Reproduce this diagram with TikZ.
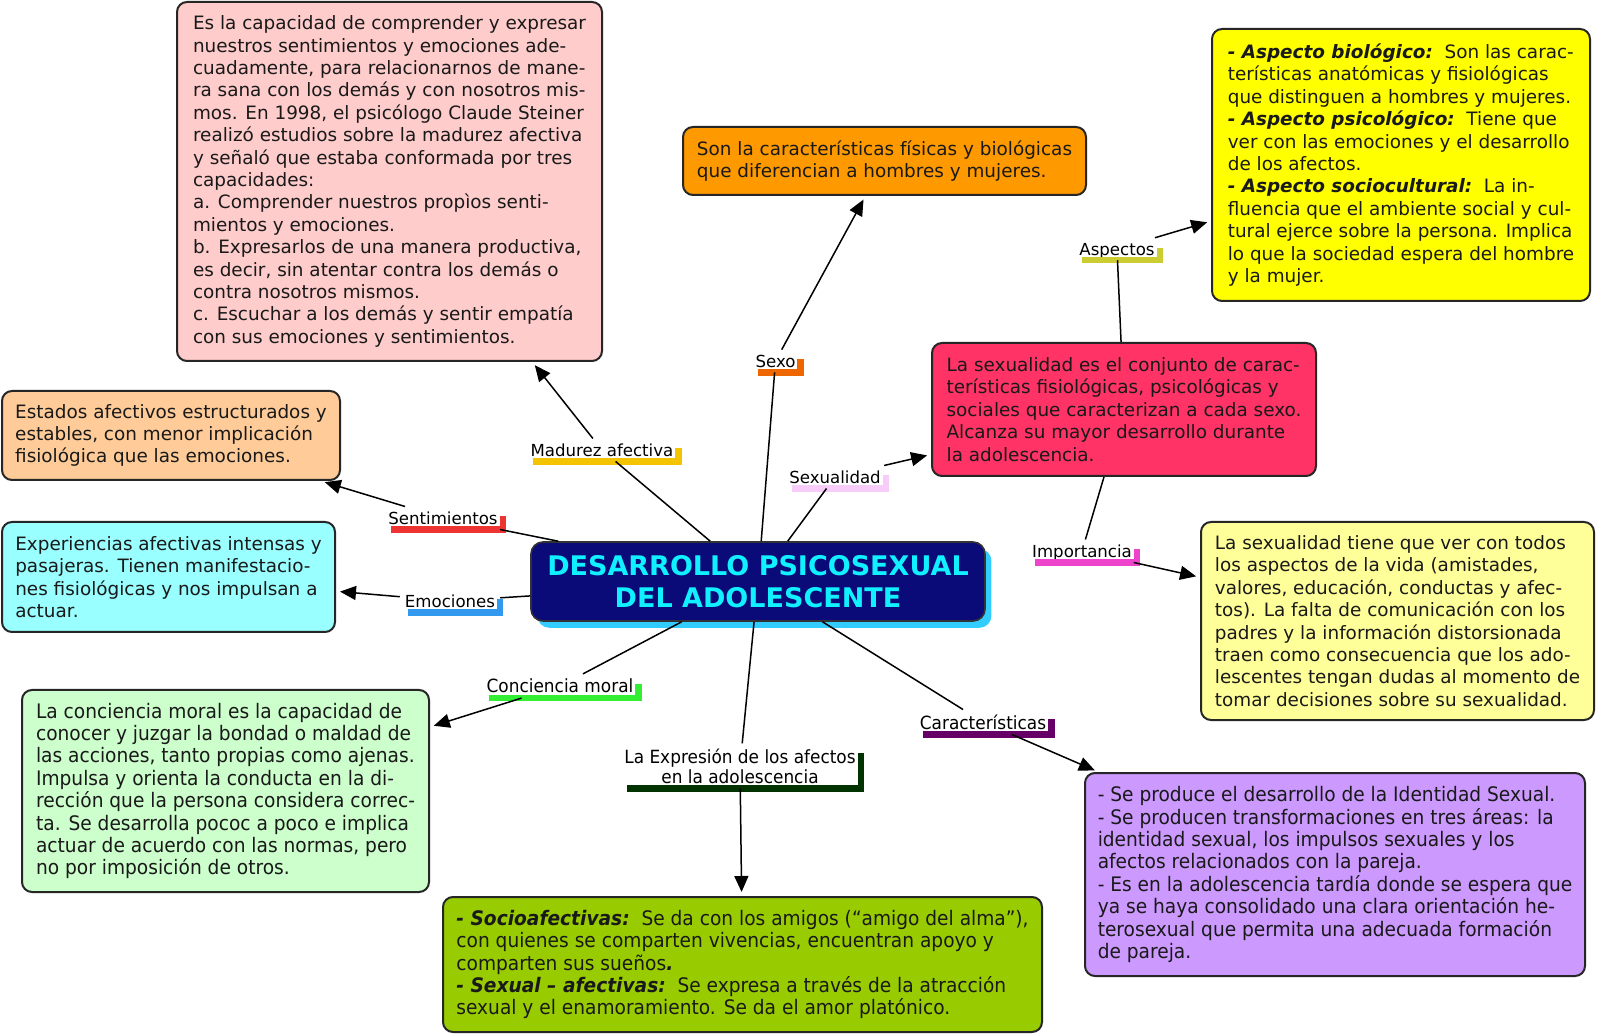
\documentclass[tikz,border=0pt]{standalone}
\usepackage{fontspec}
\setmainfont{DejaVu Sans}
\newfontfamily\narrowfont[FakeStretch=0.93]{DejaVu Sans}
\usetikzlibrary{arrows.meta,shadows}
\definecolor{madc}{HTML}{FFCCCC}
\definecolor{sexoc}{HTML}{FF9900}
\definecolor{aspc}{HTML}{FFFF00}
\definecolor{sexuc}{HTML}{FF3366}
\definecolor{impc}{HTML}{FFFF99}
\definecolor{carc}{HTML}{CC99FF}
\definecolor{exprc}{HTML}{99CC00}
\definecolor{concc}{HTML}{CCFFCC}
\definecolor{emoc}{HTML}{99FFFF}
\definecolor{sentc}{HTML}{FFCC99}
\definecolor{navyc}{HTML}{0A0A78}
\definecolor{titlec}{HTML}{10F0FF}
\definecolor{shadc}{HTML}{33CCFF}
\definecolor{madbar}{HTML}{F5C400}
\definecolor{sexobar}{HTML}{EE6600}
\definecolor{sexubar}{HTML}{F8CCF8}
\definecolor{aspbar}{HTML}{CCCC33}
\definecolor{impbar}{HTML}{EE44CC}
\definecolor{sentbar}{HTML}{EE3333}
\definecolor{emobar}{HTML}{3399EE}
\definecolor{concbar}{HTML}{33EE33}
\definecolor{exprbar}{HTML}{003300}
\definecolor{carbar}{HTML}{660066}
\newcommand\bodyfnt{\fontsize{9.2pt}{11.2pt}\selectfont}
\newcommand\narrowbody{\narrowfont\fontsize{10pt}{11.2pt}\selectfont}
\newcommand\labfnt{\fontsize{8.3pt}{10pt}\selectfont}
\newcommand\narrowlab{\narrowfont\fontsize{9.1pt}{10.2pt}\selectfont}
\newcommand\bi[1]{\textbf{\textit{#1}}}
\begin{document}
\begin{tikzpicture}[x=0.5pt,y=-0.5pt,
  box/.style={draw=black!85, line width=1pt, rounded corners=5pt, inner sep=0pt,
    align=left, text=black!90, font=\bodyfnt},
  nbox/.style={box, font=\narrowbody},
  central/.style={fill=navyc, draw=black!80, line width=0.8pt, rounded corners=6pt,
    minimum width=227pt, minimum height=39.5pt, align=center, text=titlec,
    font=\bfseries\fontsize{13.5pt}{16pt}\selectfont,
    drop shadow={shadow xshift=3.2pt, shadow yshift=-3.4pt, fill=shadc, opacity=1}},
  lab/.style={font=\labfnt, inner sep=2.4pt, text depth=0pt, text=black,
    append after command={([xshift=4pt]\tikzlastnode.south west) edge[draw=#1, line width=3.2pt,
      to path={-| (\tikztotarget)}] ([yshift=-4.9pt]\tikzlastnode.north east)}},
  nlab/.style={lab=#1, font=\narrowlab, align=center},
  conn/.style={line width=0.75pt, draw=black},
  arr/.style={conn, -{Triangle[length=8pt,width=7pt]}, shorten >=2pt}
]
\useasboundingbox[fill=white] (0,0) rectangle (1600,1036);

% central node
\node[central] (c) at (758,581.5) {DESARROLLO PSICOSEXUAL\\DEL ADOLESCENTE};

% content boxes
\node[box, fill=madc, minimum width=212.5pt, minimum height=179.5pt] (mad) at (389.5,181.5)
{Es la capacidad de comprender y expresar\\
nuestros sentimientos y emociones ade-\\
cuadamente, para relacionarnos de mane-\\
ra sana con los demás y con nosotros mis-\\
mos. En 1998, el psicólogo Claude Steiner\\
realizó estudios sobre la madurez afectiva\\
y señaló que estaba conformada por tres\\
capacidades:\\
a. Comprender nuestros propìos senti-\\
mientos y emociones.\\
b. Expresarlos de una manera productiva,\\
es decir, sin atentar contra los demás o\\
contra nosotros mismos.\\
c. Escuchar a los demás y sentir empatía\\
con sus emociones y sentimientos.};

\node[box, fill=sexoc, minimum width=201.5pt, minimum height=34pt] (sexo) at (884.5,161)
{Son la características físicas y biológicas\\
que diferencian a hombres y mujeres.};

\node[box, fill=aspc, minimum width=189pt, minimum height=136pt] (asp) at (1401,165)
{\bi{- Aspecto biológico:}\ \ Son las carac-\\
terísticas anatómicas y fisiológicas\\
que distinguen a hombres y mujeres.\\
\bi{- Aspecto psicológico:}\ \ Tiene que\\
ver con las emociones y el desarrollo\\
de los afectos.\\
\bi{- Aspecto sociocultural:}\ \ La in-\\
fluencia que el ambiente social y cul-\\
tural ejerce sobre la persona. Implica\\
lo que la sociedad espera del hombre\\
y la mujer.};

\node[box, fill=sexuc, minimum width=192pt, minimum height=66.5pt] (sexu) at (1124,409.5)
{La sexualidad es el conjunto de carac-\\
terísticas fisiológicas, psicológicas y\\
sociales que caracterizan a cada sexo.\\
Alcanza su mayor desarrollo durante\\
la adolescencia.};

\node[box, fill=impc, minimum width=196.5pt, minimum height=99pt] (imp) at (1397.5,621)
{La sexualidad tiene que ver con todos\\
los aspectos de la vida (amistades,\\
valores, educación, conductas y afec-\\
tos). La falta de comunicación con los\\
padres y la información distorsionada\\
traen como consecuencia que los ado-\\
lescentes tengan dudas al momento de\\
tomar decisiones sobre su sexualidad.};

\node[nbox, fill=carc, minimum width=250pt, minimum height=101.5pt] (car) at (1335,874.5)
{- Se produce el desarrollo de la Identidad Sexual.\\
- Se producen transformaciones en tres áreas: la\\
identidad sexual, los impulsos sexuales y los\\
afectos relacionados con la pareja.\\
- Es en la adolescencia tardía donde se espera que\\
ya se haya consolidado una clara orientación he-\\
terosexual que permita una adecuada formación\\
de pareja.};

\node[nbox, fill=exprc, minimum width=299.5pt, minimum height=67.5pt] (expr) at (742.5,964.5)
{\bi{- Socioafectivas:}\ \ Se da con los amigos (“amigo del alma”),\\
con quienes se comparten vivencias, encuentran apoyo y\\
comparten sus sueños\bi{.}\\
\bi{- Sexual – afectivas:}\ \ Se expresa a través de la atracción\\
sexual y el enamoramiento. Se da el amor platónico.};

\node[nbox, fill=concc, minimum width=203.5pt, minimum height=101pt] (conc) at (225.5,791)
{La conciencia moral es la capacidad de\\
conocer y juzgar la bondad o maldad de\\
las acciones, tanto propias como ajenas.\\
Impulsa y orienta la conducta en la di-\\
rección que la persona considera correc-\\
ta. Se desarrolla pococ a poco e implica\\
actuar de acuerdo con las normas, pero\\
no por imposición de otros.};

\node[box, fill=emoc, minimum width=166.5pt, minimum height=55pt] (emo) at (168.5,577)
{Experiencias afectivas intensas y\\
pasajeras. Tienen manifestacio-\\
nes fisiológicas y nos impulsan a\\
actuar.};

\node[box, fill=sentc, minimum width=169pt, minimum height=44.5pt] (sent) at (171,435.5)
{Estados afectivos estructurados y\\
estables, con menor implicación\\
fisiológica que las emociones.};

% linking labels
\node[lab=madbar] (lmad) at (602,450) {Madurez afectiva};
\node[lab=sexobar] (lsexo) at (775.5,361) {Sexo};
\node[lab=sexubar] (lsexu) at (835,477) {Sexualidad};
\node[lab=aspbar] (lasp) at (1117,249) {Aspectos};
\node[lab=impbar] (limp) at (1082,551) {Importancia};
\node[lab=sentbar] (lsent) at (443,518) {Sentimientos};
\node[lab=emobar] (lemo) at (450,601) {Emociones};
\node[nlab=concbar] (lconc) at (560,686) {Conciencia moral};
\node[nlab=exprbar] (lexpr) at (740,766) {La Expresión de los afectos\\en la adolescencia};
\node[nlab=carbar] (lcar) at (983,722) {Características};

% connectors
\draw[conn] (c) -- (lmad);   \draw[arr] (lmad) -- (mad);
\draw[conn] (c) -- (lsexo);  \draw[arr] (lsexo) -- (sexo);
\draw[conn] (c) -- (lsexu);  \draw[arr] (lsexu) -- (sexu);
\draw[conn] (sexu) -- (lasp); \draw[arr] (lasp) -- (asp);
\draw[conn] (sexu) -- (limp); \draw[arr] (limp) -- (imp);
\draw[conn] (c) -- (lsent);  \draw[arr] (lsent) -- (sent);
\draw[conn] (c) -- (lemo);   \draw[arr] (lemo) -- (emo);
\draw[conn] (c) -- (lconc);  \draw[arr] (lconc) -- (conc);
\draw[conn] (c) -- (lexpr);  \draw[arr] (lexpr) -- (expr);
\draw[conn] (c) -- (lcar);   \draw[arr] (lcar) -- (car);
\end{tikzpicture}
\end{document}
